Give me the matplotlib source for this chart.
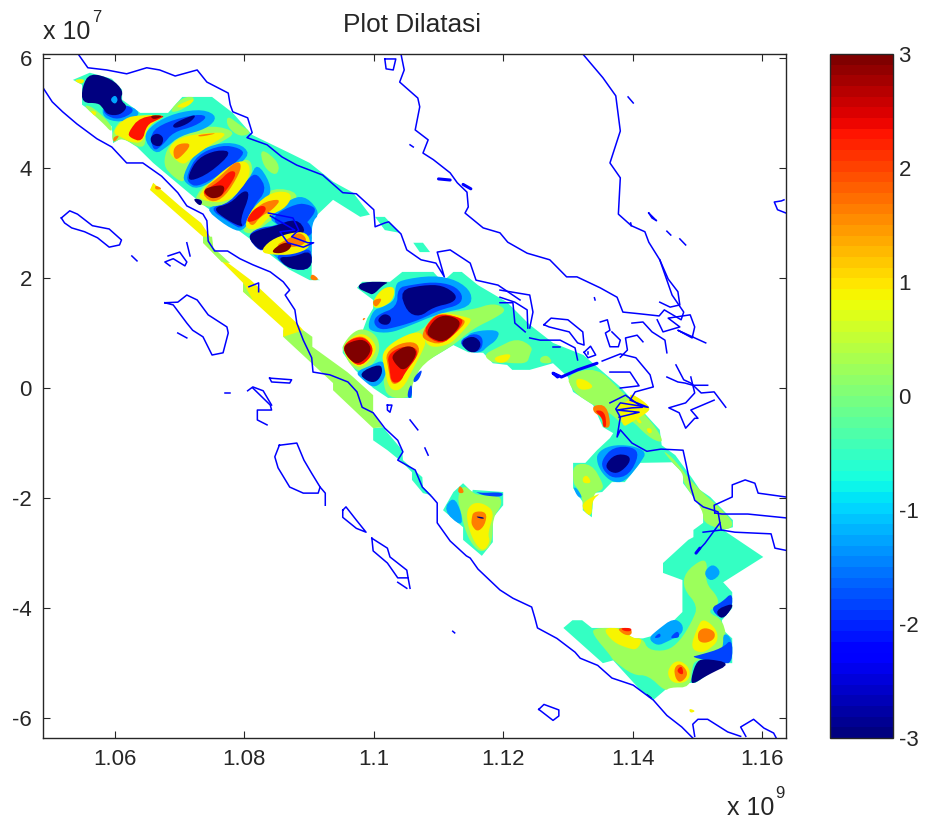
import matplotlib
matplotlib.use('Agg')
import matplotlib.pyplot as plt
from matplotlib.collections import PolyCollection
from matplotlib.cm import ScalarMappable
from matplotlib.colors import Normalize

plt.rcParams['font.family'] = ['Liberation Sans', 'DejaVu Sans']
plt.rcParams['axes.unicode_minus'] = False

# x in 1e9, y in 1e7
x_ticks = [1.06, 1.08, 1.10, 1.12, 1.14, 1.16]
x_tick_labels = ['1.06', '1.08', '1.1', '1.12', '1.14', '1.16']
y_ticks = [-6, -4, -2, 0, 2, 4, 6]
cbar_ticks = [-3, -2, -1, 0, 1, 2, 3]

# dilatation value of each colour band
v_aqua, v_green, v_lblue, v_blue, v_navy = -0.55, 0.2, -1.25, -1.8, -3.0
v_yellow, v_orange, v_red, v_dred = 0.85, 1.6, 2.3, 3.0

aqua_patches = [
  [(1.0535,5.60),(1.0561,5.73),(1.0595,5.62),(1.0611,5.42),(1.0611,5.24),(1.0639,5.00),(1.0682,5.00),(1.0704,5.29),(1.0750,5.29),(1.0782,5.00),(1.0812,4.60),(1.0870,4.27),(1.0901,4.09),(1.0937,3.75),(1.0968,3.55),(1.0994,3.15),(1.0979,3.11),(1.0937,3.42),(1.0904,3.05),(1.0904,2.02),(1.0917,1.96),(1.0901,1.96),(1.0870,2.15),(1.0804,2.75),(1.0736,3.33),(1.0659,4.09),(1.0634,4.38),(1.0611,4.55),(1.0597,4.45),(1.0595,4.75),(1.0549,5.15),(1.0549,5.51)],
  [(1.1002,3.11),(1.1017,3.11),(1.1040,2.82),(1.1017,2.87)],
  [(1.1061,2.64),(1.1076,2.64),(1.1087,2.47),(1.1071,2.47)],
  [(1.0999,-0.73),(1.1014,-0.71),(1.1044,-1.13),(1.1045,-1.31),(1.1075,-1.62),(1.1076,-1.80),(1.1090,-1.95),(1.1076,-1.91),(1.1059,-1.67),(1.1059,-1.53),(1.1044,-1.35),(1.1021,-1.13),(1.0999,-0.95)],
  [(1.0974,1.82),(1.0982,1.93),(1.1025,1.93),(1.1044,2.11),(1.1092,2.11),(1.1106,1.93),(1.1123,2.11),(1.1136,2.11),(1.1161,1.87),(1.1206,1.56),(1.1241,1.15),(1.1277,0.82),(1.1324,0.60),(1.1381,0.02),(1.1442,-0.76),(1.1445,-1.04),(1.1466,-1.22),(1.1492,-1.64),(1.1504,-1.85),(1.1520,-1.98),(1.1555,-2.40),(1.1555,-2.53),(1.1540,-2.58),(1.1602,-3.07),(1.1540,-3.53),(1.1554,-3.71),(1.1554,-4.00),(1.1538,-4.22),(1.1540,-4.40),(1.1554,-4.55),(1.1554,-5.00),(1.1538,-5.00),(1.1515,-5.22),(1.1497,-5.36),(1.1463,-5.36),(1.1432,-5.67),(1.1412,-5.49),(1.1370,-4.95),(1.1354,-5.00),(1.1293,-4.36),(1.1307,-4.22),(1.1322,-4.22),(1.1337,-4.36),(1.1384,-4.36),(1.1399,-4.55),(1.1416,-4.55),(1.1435,-4.49),(1.1453,-4.35),(1.1477,-4.07),(1.1477,-3.49),(1.1447,-3.36),(1.1447,-3.18),(1.1486,-2.76),(1.1494,-2.71),(1.1494,-2.58),(1.1509,-2.45),(1.1509,-2.22),(1.1478,-1.73),(1.1478,-1.55),(1.1461,-1.35),(1.1412,-1.36),(1.1388,-1.71),(1.1368,-1.71),(1.1353,-1.89),(1.1339,-1.91),(1.1337,-2.35),(1.1323,-2.22),(1.1323,-2.07),(1.1308,-1.82),(1.1308,-1.36),(1.1327,-1.36),(1.1345,-1.13),(1.1365,-0.91),(1.1370,-0.82),(1.1354,-0.71),(1.1339,-0.31),(1.1308,-0.07),(1.1300,0.20),(1.1277,0.45),(1.1241,0.33),(1.1214,0.33),(1.1206,0.42),(1.1184,0.45),(1.1169,0.64),(1.1146,0.65),(1.1123,0.78),(1.1076,0.45),(1.1059,0.09),(1.1059,-0.18),(1.1022,-0.18),(1.0999,0.00),(1.0971,0.33),(1.0952,0.64),(1.0952,0.75),(1.0966,0.93),(1.0983,1.05),(1.0990,1.27),(1.0999,1.45),(1.0999,1.60)],
  [(1.1107,-2.22),(1.1123,-1.89),(1.1138,-1.73),(1.1152,-1.89),(1.1153,-1.85),(1.1200,-1.89),(1.1200,-2.13),(1.1184,-2.36),(1.1184,-2.80),(1.1167,-3.05),(1.1138,-2.76),(1.1138,-2.53)],
]

# strips keep their straight edges
strip_green = [
  [(1.0860,1.05),(1.0891,1.05),(1.0905,0.93),(1.0905,0.75),(1.0959,0.29),(1.0968,0.20),(1.0999,-0.13),(1.0999,-0.44),(1.1014,-0.71),(1.0999,-0.73),(1.0937,-0.04),(1.0937,0.09),(1.0860,0.93)],
]
strip_yellow = [
  [(1.0659,3.73),(1.0702,3.29),(1.0733,3.00),(1.0747,2.75),(1.0748,2.56),(1.0775,2.27),(1.0810,1.96),(1.0881,1.18),(1.0891,1.05),(1.0860,0.93),(1.0860,1.09),(1.0798,1.75),(1.0798,1.91),(1.0736,2.64),(1.0736,2.75),(1.0654,3.60)],
]
strip_green_bits = [
  [(1.0736,2.75),(1.0750,2.75),(1.0752,2.55),(1.0778,2.27),(1.0765,2.29),(1.0736,2.64)],
  [(1.0798,1.91),(1.0813,1.60),(1.0798,1.75)],
]

green_patches = [
  [(1.0674,4.05),(1.0682,4.42),(1.0711,4.65),(1.0751,4.78),(1.0789,4.65),(1.0762,4.45),(1.0727,4.27),(1.0708,3.84),(1.0705,3.73),(1.0690,3.84)],
  [(1.0682,5.00),(1.0704,5.29),(1.0727,5.29),(1.0705,5.05)],
  [(1.0549,5.15),(1.0566,5.11),(1.0595,4.78),(1.0595,4.64),(1.0581,4.82)],
  [(1.0595,4.64),(1.0611,4.91),(1.0639,5.00),(1.0649,4.56),(1.0643,4.33),(1.0611,4.55),(1.0597,4.45)],
  [(1.0824,4.38),(1.0855,4.09),(1.0850,3.84),(1.0829,4.02)],
  [(1.0773,4.96),(1.0793,4.78),(1.0812,4.64),(1.0793,4.56),(1.0773,4.75)],
  [(1.0719,3.47),(1.0773,4.05),(1.0804,4.18),(1.0813,4.05),(1.0809,3.73),(1.0778,3.29),(1.0736,3.29)],
  [(1.0793,2.87),(1.0813,3.36),(1.0844,3.65),(1.0886,3.55),(1.0870,3.24),(1.0840,3.05),(1.0813,2.78)],
  # central band
  [(1.1012,0.45),(1.1019,0.69),(1.1040,0.91),(1.1074,1.05),(1.1085,1.20),(1.1098,1.36),(1.1152,1.42),(1.1186,1.55),(1.1206,1.42),(1.1187,1.27),(1.1159,1.11),(1.1141,0.96),(1.1123,0.78),(1.1076,0.45),(1.1059,0.09),(1.1059,-0.18),(1.1022,-0.18),(1.1014,0.11),(1.1020,0.33)],
  [(1.0952,0.69),(1.0952,0.78),(1.0966,1.00),(1.0983,1.09),(1.1005,0.96),(1.1010,0.69),(1.0999,0.42),(1.0979,0.29),(1.0963,0.42)],
  [(1.1169,0.60),(1.1190,0.73),(1.1221,0.91),(1.1246,0.75),(1.1241,0.60),(1.1237,0.45),(1.1214,0.45),(1.1200,0.47),(1.1184,0.45)],
  [(1.1257,0.56),(1.1269,0.60),(1.1277,0.45),(1.1257,0.45)],
  [(1.1297,0.24),(1.1345,0.38),(1.1381,-0.04),(1.1427,-0.58),(1.1445,-0.89),(1.1445,-1.00),(1.1424,-0.89),(1.1396,-0.55),(1.1385,-0.67),(1.1365,-0.45),(1.1339,-0.31),(1.1308,-0.07)],
  [(1.1445,-1.11),(1.1466,-1.31),(1.1492,-1.73),(1.1552,-2.36),(1.1555,-2.53),(1.1540,-2.58),(1.1509,-2.45),(1.1509,-2.22),(1.1478,-1.73),(1.1478,-1.55),(1.1461,-1.35)],
  [(1.1308,-1.38),(1.1337,-1.38),(1.1354,-1.73),(1.1354,-1.85),(1.1339,-1.91),(1.1337,-2.35),(1.1323,-2.22),(1.1323,-2.02),(1.1315,-1.82),(1.1308,-1.73)],
  # south end
  [(1.1481,-3.35),(1.1507,-3.11),(1.1516,-3.18),(1.1512,-3.53),(1.1532,-3.80),(1.1532,-3.95),(1.1515,-4.07),(1.1541,-4.22),(1.1546,-4.71),(1.1532,-4.85),(1.1497,-4.95),(1.1492,-5.07),(1.1489,-5.44),(1.1458,-5.44),(1.1450,-5.51),(1.1424,-5.22),(1.1401,-5.22),(1.1370,-4.95),(1.1365,-4.85),(1.1339,-4.49),(1.1339,-4.36),(1.1384,-4.36),(1.1399,-4.55),(1.1416,-4.55),(1.1424,-4.76),(1.1453,-4.78),(1.1473,-4.60),(1.1492,-4.24),(1.1501,-3.96),(1.1478,-3.64)],
  # small central blob
  [(1.1129,-1.98),(1.1138,-1.76),(1.1152,-1.89),(1.1161,-1.95),(1.1195,-1.95),(1.1198,-2.13),(1.1184,-2.35),(1.1183,-2.84),(1.1167,-3.00),(1.1152,-2.85),(1.1141,-2.58),(1.1135,-2.27)],
]

lblue_patches = [
  [(1.0581,5.15),(1.0623,5.15),(1.0642,4.96),(1.0608,4.82),(1.0581,4.91)],
  [(1.0643,4.56),(1.0659,4.80),(1.0693,5.00),(1.0736,5.07),(1.0759,4.93),(1.0742,4.71),(1.0700,4.58),(1.0680,4.38),(1.0662,4.24)],
  [(1.0705,3.87),(1.0724,4.29),(1.0765,4.47),(1.0798,4.42),(1.0809,4.20),(1.0762,3.84),(1.0727,3.60),(1.0708,3.73)],
  [(1.0736,3.29),(1.0778,3.33),(1.0809,3.84),(1.0820,4.09),(1.0840,3.73),(1.0840,3.47),(1.0813,3.18),(1.0798,2.82),(1.0773,2.93)],
  [(1.0835,3.11),(1.0875,3.47),(1.0897,3.47),(1.0917,3.18),(1.0904,3.00),(1.0904,2.56),(1.0855,2.93)],
  [(1.0820,2.69),(1.0844,3.00),(1.0904,3.05),(1.0904,2.15),(1.0870,2.15)],
  # central blobs
  [(1.0990,1.11),(1.0999,1.42),(1.1014,1.47),(1.1033,1.60),(1.1033,1.85),(1.1040,1.96),(1.1092,2.05),(1.1129,1.96),(1.1152,1.73),(1.1149,1.47),(1.1102,1.36),(1.1051,1.11),(1.1025,1.00),(1.0999,1.02)],
  [(1.0971,0.29),(1.0997,0.42),(1.1014,0.51),(1.1020,0.33),(1.1014,0.11),(1.0999,0.00),(1.0983,0.15)],
  [(1.1141,0.96),(1.1164,1.05),(1.1195,1.05),(1.1190,0.87),(1.1175,0.75),(1.1167,0.65),(1.1149,0.64)],
  # blob under the bend
  [(1.1345,-1.18),(1.1365,-1.04),(1.1398,-1.04),(1.1422,-1.16),(1.1412,-1.36),(1.1388,-1.71),(1.1368,-1.71),(1.1353,-1.55),(1.1345,-1.36)],
  [(1.1308,-1.80),(1.1314,-1.82),(1.1323,-2.00),(1.1315,-1.98)],
  # south end
  [(1.1424,-4.55),(1.1438,-4.40),(1.1463,-4.18),(1.1478,-4.29),(1.1477,-4.47),(1.1455,-4.60),(1.1438,-4.69)],
  [(1.1532,-4.84),(1.1540,-4.71),(1.1540,-4.44),(1.1554,-4.55),(1.1554,-4.96),(1.1540,-4.98)],
  [(1.1509,-3.36),(1.1524,-3.18),(1.1538,-3.36),(1.1521,-3.53)],
  # small central blob, west side
  [(1.1107,-2.22),(1.1123,-1.96),(1.1136,-2.27),(1.1136,-2.53)],
]

blue_patches = [
  [(1.0654,4.64),(1.0680,4.84),(1.0727,4.98),(1.0744,4.93),(1.0724,4.76),(1.0690,4.65),(1.0674,4.42),(1.0659,4.29)],
  [(1.0711,3.87),(1.0727,4.24),(1.0765,4.42),(1.0793,4.36),(1.0801,4.24),(1.0762,3.87),(1.0727,3.65),(1.0713,3.73)],
  [(1.0744,3.27),(1.0778,3.36),(1.0806,3.82),(1.0820,3.91),(1.0835,3.60),(1.0813,3.29),(1.0798,2.87),(1.0778,3.00)],
  [(1.0840,3.11),(1.0881,3.36),(1.0901,3.33),(1.0912,3.24),(1.0897,3.00),(1.0881,2.87),(1.0860,2.87)],
  [(1.0804,2.75),(1.0820,2.91),(1.0855,2.96),(1.0891,3.09),(1.0904,2.93),(1.0904,2.75),(1.0866,2.73),(1.0835,2.56),(1.0824,2.47)],
  [(1.0844,2.42),(1.0881,2.45),(1.0904,2.56),(1.0904,2.15),(1.0870,2.15)],
  [(1.0581,5.09),(1.0620,5.15),(1.0631,5.02),(1.0605,4.87),(1.0585,4.96)],
  # central blobs
  [(1.0999,1.18),(1.1005,1.33),(1.1036,1.47),(1.1037,1.82),(1.1056,1.87),(1.1092,1.93),(1.1123,1.87),(1.1138,1.69),(1.1133,1.51),(1.1102,1.42),(1.1071,1.24),(1.1036,1.11),(1.1010,1.05)],
  [(1.1062,0.20),(1.1076,0.36),(1.1070,0.15),(1.1061,0.09)],
  [(1.1053,-0.04),(1.1059,0.09),(1.1059,-0.18),(1.1052,-0.18)],
  [(1.1130,0.84),(1.1153,1.00),(1.1169,0.93),(1.1167,0.69),(1.1149,0.64)],
  [(1.1352,-1.31),(1.1370,-1.07),(1.1401,-1.07),(1.1410,-1.22),(1.1395,-1.58),(1.1370,-1.65),(1.1354,-1.49)],
  # south end
  [(1.1432,-4.55),(1.1442,-4.44),(1.1444,-4.53)],
  [(1.1458,-4.53),(1.1470,-4.40),(1.1473,-4.53),(1.1463,-4.55)],
  [(1.1489,-4.89),(1.1504,-4.85),(1.1538,-4.73),(1.1554,-4.55),(1.1554,-5.00),(1.1538,-5.00)],
  [(1.1520,-4.00),(1.1538,-3.89),(1.1554,-3.71),(1.1554,-4.00),(1.1538,-4.22)],
  # small central blob top edge
  [(1.1153,-1.85),(1.1161,-1.91),(1.1200,-1.89),(1.1198,-1.98),(1.1175,-1.96),(1.1164,-1.93)],
]

navy_patches = [
  [(1.0549,5.47),(1.0561,5.73),(1.0595,5.62),(1.0613,5.40),(1.0608,5.24),(1.0620,5.11),(1.0608,4.96),(1.0589,4.96),(1.0581,5.09),(1.0574,5.18),(1.0549,5.18)],
  [(1.0654,4.56),(1.0665,4.64),(1.0676,4.55),(1.0671,4.38),(1.0657,4.42)],
  [(1.0688,4.78),(1.0705,4.89),(1.0727,4.98),(1.0716,4.82),(1.0693,4.71)],
  [(1.0713,3.87),(1.0728,4.18),(1.0758,4.33),(1.0782,4.29),(1.0747,3.91),(1.0716,3.75)],
  [(1.0750,3.27),(1.0778,3.35),(1.0799,3.60),(1.0809,3.53),(1.0793,3.05),(1.0799,2.91),(1.0773,3.05)],
  [(1.0804,2.75),(1.0820,2.87),(1.0844,2.93),(1.0881,3.09),(1.0897,2.82),(1.0870,2.75),(1.0835,2.56),(1.0824,2.49)],
  [(1.0850,2.38),(1.0875,2.38),(1.0904,2.51),(1.0904,2.15),(1.0870,2.15)],
  [(1.0719,3.45),(1.0736,3.42),(1.0732,3.29)],
  # central blobs
  [(1.0974,1.82),(1.0982,1.93),(1.1025,1.93),(1.1014,1.87),(1.0999,1.69),(1.0991,1.73)],
  [(1.1040,1.78),(1.1076,1.87),(1.1106,1.87),(1.1129,1.69),(1.1123,1.55),(1.1092,1.47),(1.1071,1.29),(1.1051,1.38)],
  [(1.1005,1.24),(1.1016,1.36),(1.1028,1.29),(1.1024,1.15),(1.1012,1.15)],
  [(1.0976,0.27),(1.1010,0.45),(1.1014,0.29),(1.1005,0.11),(1.0991,0.11)],
  [(1.1133,0.84),(1.1153,0.96),(1.1167,0.82),(1.1160,0.65),(1.1146,0.65)],
  [(1.1357,-1.40),(1.1373,-1.20),(1.1395,-1.22),(1.1396,-1.36),(1.1379,-1.55),(1.1365,-1.53)],
  # south end
  [(1.1497,-5.00),(1.1509,-4.91),(1.1554,-5.00),(1.1515,-5.22),(1.1497,-5.36),(1.1489,-5.36)],
  [(1.1527,-4.04),(1.1554,-3.91),(1.1554,-4.00),(1.1538,-4.22)],
]

# spots that sit on top of the navy or orange shapes
lblue_spots = [[(1.0592,5.24),(1.0600,5.33),(1.0605,5.24),(1.0600,5.15)]]
navy_spots = [[(1.1158,-2.33),(1.1170,-2.35),(1.1170,-2.38),(1.1161,-2.36)],
              [(1.1419,-5.53),(1.1432,-5.64),(1.1426,-5.64)]]

yellow_patches = [
  [(1.0535,5.60),(1.0554,5.62),(1.0549,5.51)],
  [(1.0561,5.05),(1.0572,5.02),(1.0569,4.93)],
  [(1.0595,4.64),(1.0615,4.91),(1.0639,4.96),(1.0682,4.96),(1.0652,4.78),(1.0643,4.45),(1.0623,4.47),(1.0611,4.55)],
  [(1.0682,4.36),(1.0700,4.56),(1.0742,4.64),(1.0778,4.64),(1.0742,4.38),(1.0716,4.15),(1.0705,4.05),(1.0688,4.20)],
  [(1.0690,5.11),(1.0727,5.29),(1.0711,5.09)],
  [(1.0727,3.51),(1.0773,4.02),(1.0798,4.15),(1.0810,4.02),(1.0804,3.73),(1.0773,3.36),(1.0736,3.40)],
  [(1.0798,2.91),(1.0813,3.29),(1.0844,3.58),(1.0875,3.55),(1.0866,3.29),(1.0840,3.14),(1.0820,2.87)],
  [(1.0824,2.47),(1.0840,2.69),(1.0870,2.82),(1.0897,2.84),(1.0904,2.56),(1.0875,2.42),(1.0844,2.42)],
  # central blobs
  [(1.1076,0.96),(1.1092,1.29),(1.1107,1.38),(1.1143,1.29),(1.1153,1.24),(1.1132,0.96),(1.1116,0.78),(1.1085,0.73)],
  [(1.1012,0.64),(1.1033,0.87),(1.1069,1.05),(1.1082,0.87),(1.1074,0.64),(1.1062,0.38),(1.1044,-0.04),(1.1024,-0.04),(1.1016,0.38)],
  [(1.0952,0.75),(1.0966,0.93),(1.0983,1.00),(1.0999,0.87),(1.1005,0.69),(1.0991,0.45),(1.0976,0.36),(1.0960,0.51)],
  [(1.0999,1.60),(1.1014,1.82),(1.1033,1.85),(1.1030,1.60),(1.1014,1.47),(1.0999,1.45)],
  [(1.1184,0.56),(1.1214,0.64),(1.1206,0.47),(1.1192,0.45)],
  [(1.1311,0.18),(1.1328,0.15),(1.1342,0.00),(1.1316,-0.05)],
  [(1.1396,-0.09),(1.1415,-0.22),(1.1427,-0.35),(1.1424,-0.44),(1.1396,-0.64),(1.1385,-0.71),(1.1381,-0.45),(1.1376,-0.31),(1.1396,-0.22)],
  [(1.1404,-0.53),(1.1410,-0.55),(1.1415,-0.64),(1.1409,-0.64)],
  [(1.1421,-0.73),(1.1429,-0.73),(1.1430,-0.82),(1.1424,-0.82)],
  [(1.1323,-1.62),(1.1330,-1.58),(1.1337,-1.73),(1.1323,-1.73)],
  [(1.1323,-2.07),(1.1353,-1.89),(1.1337,-2.04),(1.1337,-2.35),(1.1323,-2.22)],
  # south end
  [(1.1353,-4.36),(1.1384,-4.36),(1.1399,-4.55),(1.1416,-4.55),(1.1407,-4.76),(1.1393,-4.73),(1.1370,-4.62)],
  [(1.1489,-4.73),(1.1500,-4.35),(1.1509,-4.18),(1.1530,-4.38),(1.1532,-4.60),(1.1520,-4.73),(1.1507,-4.82)],
  [(1.1453,-5.18),(1.1461,-5.00),(1.1473,-4.95),(1.1487,-5.07),(1.1489,-5.25),(1.1480,-5.36),(1.1461,-5.36)],
  # small central blob
  [(1.1143,-2.25),(1.1152,-2.09),(1.1169,-2.09),(1.1187,-2.25),(1.1176,-2.64),(1.1180,-2.80),(1.1169,-2.98),(1.1156,-2.82),(1.1146,-2.53)],
  [(1.1487,-5.82),(1.1498,-5.87),(1.1489,-5.91)],
]

orange_patches = [
  [(1.0597,4.56),(1.0608,4.60),(1.0598,4.45)],
  [(1.0690,4.35),(1.0700,4.45),(1.0720,4.44),(1.0698,4.15),(1.0691,4.18)],
  [(1.0727,4.60),(1.0762,4.64),(1.0731,4.56)],
  [(1.0732,3.58),(1.0765,3.87),(1.0785,4.11),(1.0795,4.09),(1.0793,3.91),(1.0770,3.47),(1.0748,3.36)],
  [(1.0804,3.04),(1.0824,3.36),(1.0858,3.45),(1.0844,3.24),(1.0824,3.11),(1.0813,2.93)],
  [(1.0844,2.56),(1.0870,2.73),(1.0886,2.84),(1.0898,2.69),(1.0886,2.56)],
  [(1.0904,2.09),(1.0917,1.96),(1.0901,1.96)],
  [(1.0662,3.69),(1.0674,3.62),(1.0662,3.60)],
  [(1.0999,1.60),(1.1014,1.64),(1.1005,1.47),(1.0999,1.51)],
  [(1.0983,1.27),(1.0988,1.27),(1.0983,1.22)],
  # central blobs
  [(1.1074,0.99),(1.1090,1.29),(1.1107,1.36),(1.1135,1.27),(1.1143,1.20),(1.1127,1.00),(1.1104,0.78),(1.1078,0.87)],
  [(1.1018,0.64),(1.1041,0.82),(1.1066,0.84),(1.1072,0.64),(1.1049,0.33),(1.1042,0.11),(1.1027,0.05),(1.1022,0.38)],
  [(1.0952,0.75),(1.0966,0.91),(1.0985,0.95),(1.0999,0.75),(1.0996,0.56),(1.0977,0.38),(1.0959,0.56)],
  # bend
  [(1.1339,-0.31),(1.1360,-0.31),(1.1367,-0.71),(1.1354,-0.73),(1.1353,-0.53),(1.1339,-0.44)],
  # south end
  [(1.1375,-4.36),(1.1398,-4.36),(1.1399,-4.49),(1.1387,-4.49)],
  [(1.1501,-4.42),(1.1512,-4.35),(1.1527,-4.42),(1.1527,-4.56),(1.1513,-4.64),(1.1501,-4.60)],
  [(1.1464,-5.09),(1.1473,-5.00),(1.1484,-5.13),(1.1484,-5.25),(1.1473,-5.36),(1.1466,-5.27)],
  # small central blob
  [(1.1151,-2.38),(1.1154,-2.24),(1.1175,-2.25),(1.1172,-2.49),(1.1160,-2.62),(1.1151,-2.49)],
  [(1.1129,-1.91),(1.1133,-1.75),(1.1141,-1.91)],
]

red_patches = [
  [(1.0620,4.64),(1.0639,4.93),(1.0680,4.96),(1.0665,4.87),(1.0649,4.78),(1.0642,4.47),(1.0623,4.55)],
  [(1.0731,3.55),(1.0759,3.73),(1.0778,3.96),(1.0789,3.91),(1.0773,3.60),(1.0758,3.42)],
  [(1.0801,3.00),(1.0813,3.24),(1.0829,3.33),(1.0835,3.24),(1.0820,3.05)],
  [(1.1075,1.00),(1.1090,1.27),(1.1107,1.35),(1.1135,1.27),(1.1138,1.20),(1.1127,1.00),(1.1104,0.78)],
  [(1.1021,0.60),(1.1041,0.75),(1.1064,0.75),(1.1069,0.60),(1.1049,0.29),(1.1041,0.11),(1.1027,0.09),(1.1024,0.38)],
  [(1.0952,0.75),(1.0966,0.90),(1.0985,0.93),(1.0999,0.75),(1.0996,0.56),(1.0977,0.38),(1.0959,0.56)],
  [(1.1340,-0.40),(1.1357,-0.42),(1.1360,-0.71),(1.1354,-0.71),(1.1354,-0.55)],
  [(1.1381,-4.36),(1.1398,-4.36),(1.1398,-4.42),(1.1387,-4.42)],
  [(1.1468,-5.13),(1.1476,-5.04),(1.1479,-5.20),(1.1473,-5.20)],
]

dred_patches = [
  [(1.0654,4.96),(1.0676,4.95),(1.0659,4.87)],
  [(1.0736,3.60),(1.0751,3.67),(1.0770,3.69),(1.0767,3.51),(1.0754,3.44),(1.0744,3.47)],
  [(1.0840,2.47),(1.0858,2.64),(1.0874,2.64),(1.0870,2.51),(1.0855,2.44)],
  [(1.1081,1.02),(1.1095,1.27),(1.1113,1.33),(1.1133,1.24),(1.1132,1.09),(1.1109,0.82),(1.1087,0.91)],
  [(1.1027,0.60),(1.1047,0.76),(1.1062,0.75),(1.1067,0.60),(1.1047,0.29),(1.1032,0.45)],
  [(1.0952,0.75),(1.0966,0.85),(1.0985,0.89),(1.0997,0.73),(1.0990,0.55),(1.0974,0.42),(1.0959,0.56)],
]

# coastlines
coast_west = [(1.0488,5.47),(1.0503,5.20),(1.0519,5.02),(1.0541,4.80),(1.0572,4.53),(1.0595,4.38),(1.0618,4.09),(1.0643,4.09),(1.0672,3.85),(1.0697,3.55),(1.0711,3.31),(1.0736,3.16),(1.0742,3.04),(1.0744,2.67),(1.0754,2.49),(1.0774,2.49),(1.0793,2.35),(1.0813,2.24),(1.0840,2.11),(1.0860,1.93),(1.0870,1.78),(1.0863,1.69),(1.0878,1.42),(1.0881,1.18),(1.0891,0.87),(1.0904,0.55),(1.0906,0.29),(1.0932,0.24),(1.0960,0.11),(1.0974,-0.07),(1.0982,-0.35),(1.0999,-0.45),(1.1017,-0.73),(1.1037,-0.95),(1.1045,-1.16),(1.1037,-1.31),(1.1064,-1.49),(1.1075,-1.80),(1.1090,-1.98),(1.1098,-2.09),(1.1098,-2.45),(1.1118,-2.78),(1.1143,-3.05),(1.1149,-3.09),(1.1161,-3.29),(1.1195,-3.67),(1.1215,-3.82),(1.1244,-3.98),(1.1249,-4.18),(1.1253,-4.36),(1.1283,-4.55),(1.1311,-4.80),(1.1319,-4.91),(1.1346,-5.04),(1.1368,-5.27),(1.1401,-5.40),(1.1432,-5.67),(1.1453,-5.95),(1.1476,-6.16),(1.1493,-6.36)]
coast_aceh_north = [(1.0543,6.07),(1.0558,5.82),(1.0587,5.78),(1.0618,5.71),(1.0649,5.82),(1.0669,5.78),(1.0693,5.67),(1.0727,5.78),(1.0742,5.56),(1.0775,5.36),(1.0778,5.15),(1.0782,5.02),(1.0805,4.91),(1.0812,4.64),(1.0804,4.55),(1.0835,4.42),(1.0858,4.20),(1.0881,4.05),(1.0921,3.87),(1.0952,3.55),(1.0973,3.53),(1.1000,3.24),(1.1002,2.93),(1.1017,3.00),(1.1023,3.02),(1.1042,2.80),(1.1051,2.51),(1.1073,2.33),(1.1096,2.27),(1.1109,2.02),(1.1098,2.47),(1.1118,2.51),(1.1149,2.27),(1.1158,1.96),(1.1192,1.87),(1.1226,1.60)]
coast_malay = [(1.1042,6.07),(1.1047,5.78),(1.1040,5.56),(1.1068,5.27),(1.1071,5.11),(1.1064,4.69),(1.1084,4.51),(1.1076,4.27),(1.1092,4.15),(1.1118,3.91),(1.1129,3.73),(1.1144,3.56),(1.1146,3.29),(1.1141,3.18),(1.1169,2.91),(1.1195,2.82),(1.1207,2.65),(1.1237,2.45),(1.1272,2.33),(1.1298,2.02),(1.1314,2.02),(1.1350,1.82),(1.1376,1.65),(1.1385,1.38),(1.1410,1.35),(1.1441,1.31),(1.1449,1.42),(1.1475,1.24),(1.1479,1.38),(1.1461,1.69),(1.1442,2.33)]
coast_east_malay = [(1.1323,6.07),(1.1354,5.64),(1.1374,5.31),(1.1381,4.67),(1.1365,4.09),(1.1381,3.82),(1.1378,3.16),(1.1398,2.95),(1.1419,2.84),(1.1425,2.65),(1.1442,2.33),(1.1455,1.98),(1.1470,1.75),(1.1473,1.51),(1.1458,1.47),(1.1442,1.56)]
coast_sumatra_east = [(1.1353,0.49),(1.1381,0.62),(1.1405,0.55),(1.1427,0.24),(1.1432,0.02),(1.1404,-0.07),(1.1396,-0.22),(1.1424,-0.35),(1.1381,-0.27),(1.1374,-0.38),(1.1381,-0.53),(1.1376,-0.89),(1.1381,-0.76),(1.1399,-1.00),(1.1422,-1.15),(1.1444,-1.11),(1.1478,-1.13),(1.1483,-1.40),(1.1490,-1.80),(1.1496,-2.04),(1.1509,-2.16),(1.1532,-2.25),(1.1535,-2.45),(1.1537,-2.58),(1.1558,-2.62),(1.1614,-2.65),(1.1620,-2.91),(1.1637,-2.95)]
coast_river_mouth = [(1.1535,-2.45),(1.1512,-2.82),(1.1498,-3.00)]
coast_river_mouth2 = [(1.1509,-2.62),(1.1537,-2.58)]

thick_rivers = [
  [(1.1345,0.45),(1.1315,0.33),(1.1290,0.20),(1.1277,0.27),(1.1284,0.20)],
  [(1.1498,-3.00),(1.1504,-2.91)],
  [(1.1100,3.80),(1.1118,3.78)],
  [(1.1138,3.70),(1.1150,3.62)],
]

island_loops = [
  [(1.0481,3.35),(1.0484,3.30)],
  [(1.0517,3.09),(1.0530,3.22),(1.0542,3.16),(1.0565,2.95),(1.0591,2.89),(1.0610,2.69),(1.0607,2.60),(1.0591,2.56),(1.0573,2.73),(1.0553,2.84),(1.0533,2.91),(1.0522,3.00),(1.0517,3.09)],
  [(1.0626,2.40),(1.0634,2.31)],
  [(1.0682,2.40),(1.0700,2.47),(1.0711,2.29),(1.0708,2.22),(1.0690,2.35),(1.0677,2.29),(1.0685,2.22)],
  [(1.0711,2.64),(1.0716,2.40)],
  [(1.0807,1.84),(1.0822,1.91),(1.0822,1.75)],
  # Nias
  [(1.0677,1.55),(1.0697,1.56),(1.0711,1.69),(1.0727,1.60),(1.0744,1.33),(1.0773,1.11),(1.0775,1.00),(1.0767,0.64),(1.0750,0.60),(1.0736,0.93),(1.0720,1.05),(1.0711,1.18),(1.0690,1.51),(1.0677,1.55)],
  [(1.0697,1.00),(1.0711,0.91)],
  [(1.0839,0.18),(1.0873,0.15),(1.0870,0.09),(1.0842,0.11),(1.0839,0.18)],
  [(1.0813,0.00),(1.0840,-0.31),(1.0842,-0.40),(1.0820,-0.40),(1.0820,-0.58),(1.0835,-0.67)],
  [(1.0805,-0.05),(1.0813,0.02),(1.0829,-0.05),(1.0842,-0.31)],
  [(1.0770,-0.09),(1.0778,-0.09)],
  # Siberut
  [(1.0854,-1.04),(1.0881,-1.00),(1.0892,-1.31),(1.0904,-1.55),(1.0917,-1.80),(1.0914,-1.91),(1.0891,-1.91),(1.0870,-1.80),(1.0852,-1.45),(1.0847,-1.25),(1.0854,-1.04)],
  [(1.0917,-1.80),(1.0925,-1.91),(1.0925,-2.13)],
  # Sipora
  [(1.0952,-2.22),(1.0957,-2.16),(1.0973,-2.40),(1.0988,-2.62),(1.0973,-2.55),(1.0952,-2.35),(1.0952,-2.22)],
  # Pagai
  [(1.0997,-2.73),(1.1021,-2.91),(1.1025,-3.07),(1.1051,-3.31),(1.1053,-3.45),(1.1037,-3.45),(1.1021,-3.18),(1.0999,-2.96),(1.0997,-2.73)],
  [(1.1053,-3.45),(1.1056,-3.64)],
  [(1.1037,-3.53),(1.1051,-3.64)],
  [(1.1021,-0.31),(1.1028,-0.31),(1.1025,-0.44),(1.1021,-0.40),(1.1021,-0.31)],
  [(1.1056,-0.58),(1.1068,-0.76)],
  [(1.1079,-1.09),(1.1084,-1.22)],
  [(1.1122,-4.42),(1.1125,-4.45)],
  # Toba
  [(1.0837,3.18),(1.0875,3.09),(1.0884,2.87),(1.0873,2.75),(1.0898,2.64),(1.0907,2.64),(1.0891,2.56),(1.0867,2.64),(1.0855,2.84),(1.0878,2.87),(1.0840,3.13)],
  # north, near the Malay coast
  [(1.1017,5.98),(1.1034,5.98),(1.1030,5.78),(1.1019,5.80),(1.1017,5.98)],
  [(1.1056,4.42),(1.1061,4.38)],
  # Riau
  [(1.1195,1.78),(1.1241,1.69),(1.1246,1.38),(1.1241,1.09)],
  [(1.1195,1.65),(1.1218,1.56),(1.1237,1.42),(1.1238,1.09)],
  [(1.1195,1.55),(1.1215,1.55),(1.1218,1.18),(1.1234,1.02)],
  [(1.1263,1.15),(1.1274,1.27),(1.1300,1.24),(1.1323,1.02),(1.1325,0.78),(1.1315,0.82),(1.1302,1.02),(1.1271,1.11),(1.1263,1.15)],
  [(1.1241,0.91),(1.1257,0.87),(1.1288,0.87),(1.1311,0.73),(1.1315,0.51)],
  [(1.1325,0.65),(1.1335,0.76),(1.1343,0.60),(1.1331,0.55),(1.1325,0.65)],
  [(1.1350,1.20),(1.1361,1.24),(1.1365,1.05),(1.1358,1.00),(1.1365,0.75),(1.1378,0.75),(1.1381,0.87),(1.1368,1.02)],
  [(1.1381,0.56),(1.1392,0.69),(1.1389,0.91),(1.1407,0.96),(1.1416,0.84)],
  [(1.1399,1.18),(1.1416,1.20),(1.1430,1.02),(1.1450,0.87),(1.1453,0.64)],
  [(1.1438,1.24),(1.1447,1.02),(1.1473,1.11),(1.1455,1.27),(1.1489,1.33),(1.1496,1.11),(1.1492,0.91),(1.1470,1.05),(1.1513,0.82)],
  [(1.1453,0.20),(1.1470,0.11),(1.1481,0.09),(1.1493,0.05),(1.1516,0.05)],
  [(1.1467,0.42),(1.1479,0.15),(1.1490,0.09),(1.1506,-0.09),(1.1526,-0.07),(1.1544,-0.35)],
  [(1.1490,0.20),(1.1496,-0.09),(1.1482,-0.27),(1.1456,-0.36),(1.1472,-0.45),(1.1482,-0.73),(1.1496,-0.55),(1.1501,-0.55),(1.1490,-0.40),(1.1526,-0.22)],
  # near the bend
  [(1.1365,0.29),(1.1396,0.29),(1.1410,0.04),(1.1381,0.00)],
  [(1.1365,-0.27),(1.1389,-0.13),(1.1415,-0.35),(1.1399,-0.36),(1.1376,-0.40),(1.1410,-0.44),(1.1379,-0.53)],
  # Belitung side
  [(1.1527,-2.27),(1.1526,-2.13),(1.1554,-1.98),(1.1554,-1.76),(1.1574,-1.67),(1.1589,-1.73),(1.1594,-1.91),(1.1637,-1.98)],
  [(1.1527,-2.27),(1.1538,-2.29),(1.1578,-2.29),(1.1637,-2.36)],
  # south-east corner
  [(1.1496,-6.33),(1.1493,-6.11),(1.1501,-6.02),(1.1516,-6.02),(1.1547,-6.25),(1.1567,-6.33)],
  [(1.1575,-6.33),(1.1567,-6.16),(1.1587,-6.02),(1.1603,-6.18),(1.1618,-6.27),(1.1622,-6.36)],
  [(1.1255,-5.84),(1.1263,-5.75),(1.1286,-5.85),(1.1286,-5.96),(1.1277,-6.04),(1.1255,-5.84)],
  # specks in the sea and the east
  [(1.1397,3.00),(1.1398,2.95)],
  [(1.1425,3.18),(1.1437,3.04),(1.1430,3.09),(1.1425,3.18)],
  [(1.1453,2.85),(1.1459,2.78)],
  [(1.1473,2.71),(1.1482,2.60)],
  [(1.1634,3.42),(1.1630,3.40),(1.1619,3.38),(1.1624,3.24),(1.1637,3.18)],
  [(1.1393,5.29),(1.1401,5.18)],
  [(1.1277,0.75),(1.1288,0.75)],
  [(1.1331,0.65),(1.1331,0.62)],
  [(1.1341,1.64),(1.1342,1.60)],
]

def rounded(poly, passes = 2):
  # corner cutting, the blobs in the original are soft
  for _ in range(passes):
    out = []
    for i in range(len(poly)):
      (x0, y0), (x1, y1) = poly[i], poly[(i + 1) % len(poly)]
      out.append((.75 * x0 + .25 * x1, .75 * y0 + .25 * y1))
      out.append((.25 * x0 + .75 * x1, .25 * y0 + .75 * y1))
    poly = out
  return poly

layer_patches = [aqua_patches, strip_green, strip_yellow, strip_green_bits, green_patches, lblue_patches, blue_patches,
                 navy_patches, lblue_spots, yellow_patches, orange_patches, navy_spots, red_patches, dred_patches]
layer_values = [v_aqua, v_green, v_yellow, v_green, v_green, v_lblue, v_blue,
                v_navy, v_lblue, v_yellow, v_orange, v_navy, v_red, v_dred]
layer_soft = [False, False, False, False, True, True, True, True, True, True, True, True, True, True]

W, H = 925, 823
fig = plt.figure(figsize = (W / 100, H / 100), dpi = 100)
ax = fig.add_axes([43 / W, 1 - 738 / H, 743 / W, 684 / H])
cax = fig.add_axes([830 / W, 1 - 738 / H, 63 / W, 684 / H])

cmap = plt.get_cmap('jet', 64)
norm = Normalize(-3, 3)

for patches, value, soft in zip(layer_patches, layer_values, layer_soft):
  polys = [rounded(p) for p in patches] if soft else patches
  pc = PolyCollection(polys, array = [value] * len(polys), cmap = cmap, norm = norm,
                      edgecolors = 'none', linewidths = 0)
  ax.add_collection(pc)

lines = [coast_west, coast_aceh_north, coast_malay, coast_east_malay, coast_sumatra_east,
         coast_river_mouth, coast_river_mouth2] + island_loops
for line in lines:
  ax.plot([p[0] for p in line], [p[1] for p in line], color = '#0000ff', lw = 1.1, solid_joinstyle = 'round')
for line in thick_rivers:
  ax.plot([p[0] for p in line], [p[1] for p in line], color = '#0000ff', lw = 2.2, solid_capstyle = 'round')

ax.set_xlim(1.04887, 1.16371)
ax.set_ylim(-6.36, 6.07)
ax.set_xticks(x_ticks)
ax.set_xticklabels(x_tick_labels)
ax.set_yticks(y_ticks)
ax.tick_params(direction = 'in', length = 5, width = 0.8, top = True, right = True, labelsize = 16,
               colors = '#262626', pad = 8)
for s in ax.spines.values():
  s.set_linewidth(1.0)
  s.set_color('#262626')

cb = fig.colorbar(ScalarMappable(norm = norm, cmap = cmap), cax = cax, ticks = cbar_ticks)
cb.ax.tick_params(direction = 'in', length = 0, labelsize = 16, colors = '#262626', pad = 4)
cb.outline.set_linewidth(1.0)
cb.outline.set_edgecolor('#262626')
cb.ax.set_yticklabels([str(t) for t in cbar_ticks])

txt = dict(color = '#262626')
fig.text(412 / W, 1 - 25 / H, 'Plot Dilatasi', ha = 'center', va = 'center', fontsize = 18.9, **txt)
fig.text(43 / W, 1 - 32 / H, 'x 10', ha = 'left', va = 'center', fontsize = 18, **txt)
fig.text(92 / W, 1 - 17 / H, '7', ha = 'left', va = 'center', fontsize = 12, **txt)
fig.text(727 / W, 1 - 808 / H, 'x 10', ha = 'left', va = 'center', fontsize = 18, **txt)
fig.text(775 / W, 1 - 793 / H, '9', ha = 'left', va = 'center', fontsize = 12, **txt)

fig.savefig('out.png', dpi = 100)
